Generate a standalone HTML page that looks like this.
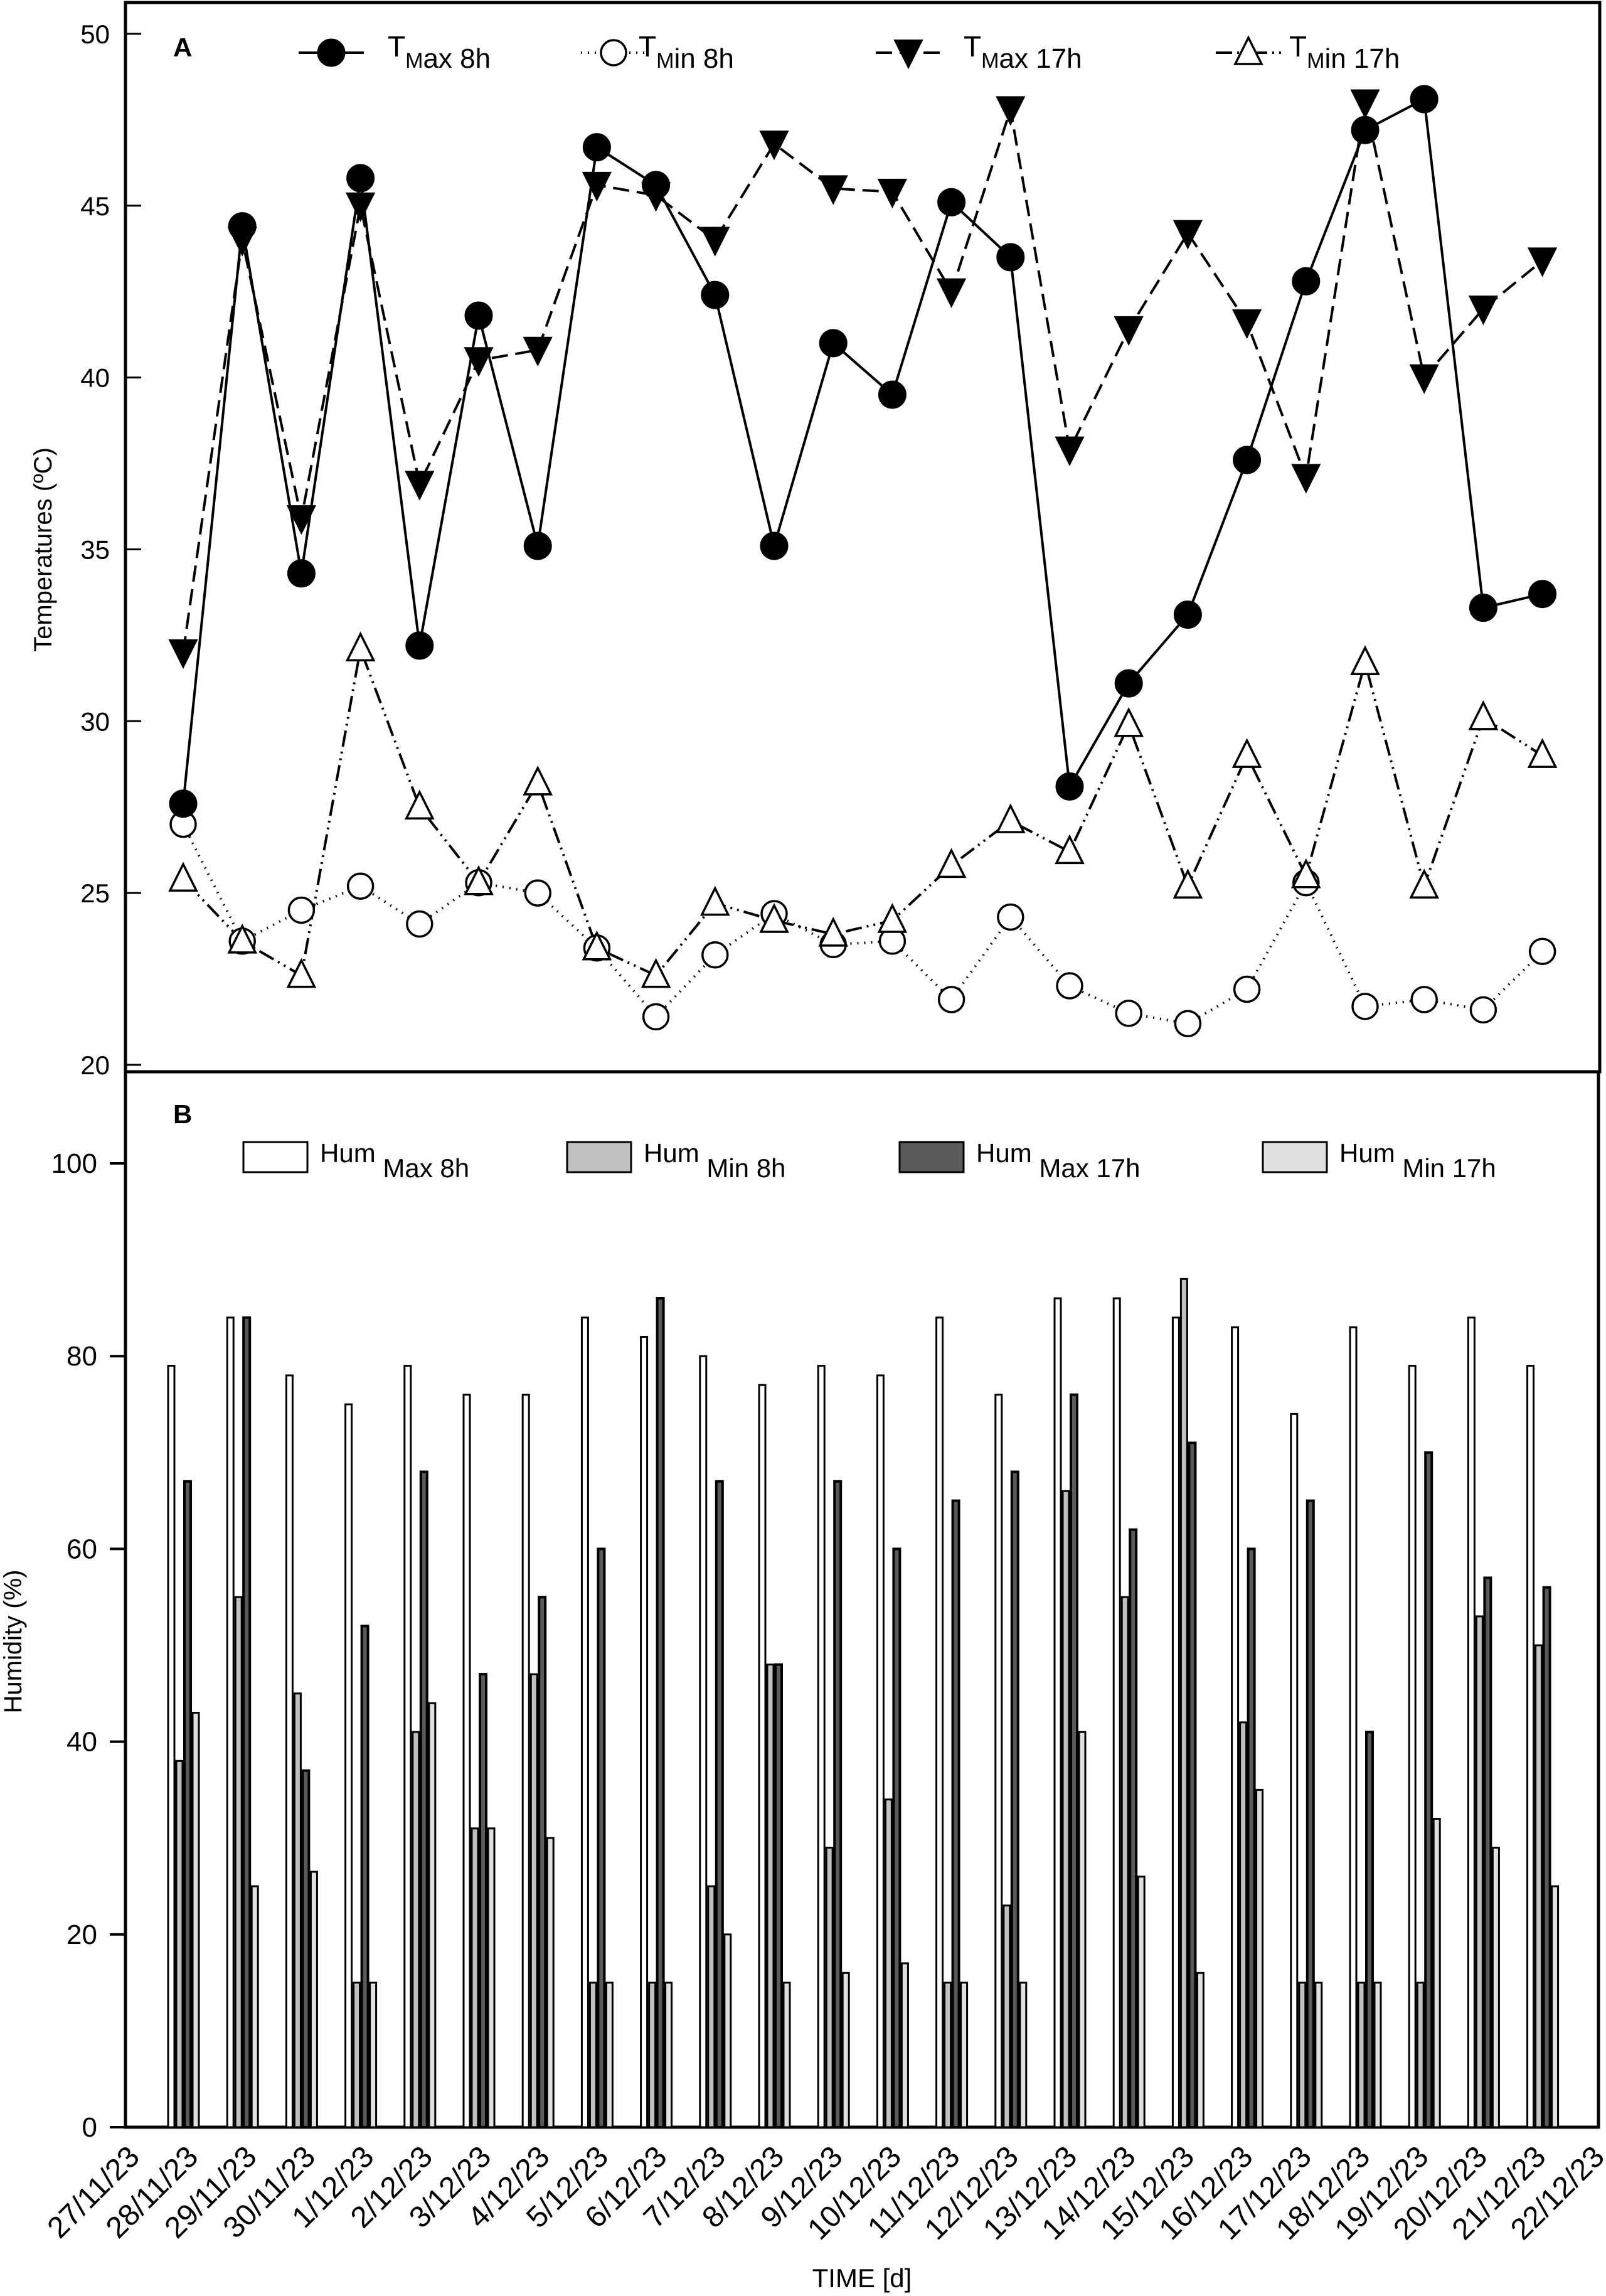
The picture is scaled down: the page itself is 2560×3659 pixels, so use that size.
<!DOCTYPE html>
<html><head><meta charset="utf-8"><style>
html,body{margin:0;padding:0;background:#fff;}
svg{display:block;font-family:"Liberation Sans",Arial,sans-serif;}
</style></head><body>
<svg id="chart" width="2560" height="3659" viewBox="0 0 2560 3659" xmlns="http://www.w3.org/2000/svg">
<g id="panelA"></g>
<g id="panelB"></g>
</svg>
<script>
const dates=["27/11/23","28/11/23","29/11/23","30/11/23","1/12/23","2/12/23","3/12/23","4/12/23","5/12/23","6/12/23","7/12/23","8/12/23","9/12/23","10/12/23","11/12/23","12/12/23","13/12/23","14/12/23","15/12/23","16/12/23","17/12/23","18/12/23","19/12/23","20/12/23","21/12/23","22/12/23"];
const tMax8=[27.6,44.4,34.3,45.8,32.2,41.8,35.1,46.7,45.6,42.4,35.1,41.0,39.5,45.1,43.5,28.1,31.1,33.1,37.6,42.8,47.2,48.1,33.3,33.7];
const tMin8=[27.0,23.6,24.5,25.2,24.1,25.3,25.0,23.4,21.4,23.2,24.4,23.5,23.6,21.9,24.3,22.3,21.5,21.2,22.2,25.3,21.7,21.9,21.6,23.3];
const tMax17=[32.0,44.0,35.9,45.0,36.9,40.5,40.8,45.6,45.3,44.0,46.8,45.5,45.4,42.5,47.8,37.9,41.4,44.2,41.6,37.1,48.0,40.0,42.0,43.4];
const tMin17=[25.4,23.6,22.6,32.1,27.5,25.3,28.2,23.4,22.6,24.7,24.2,23.8,24.2,25.8,27.1,26.2,29.9,25.2,29.0,25.5,31.7,25.2,30.1,29.0];
const humMax8=[79,84,78,75,79,76,76,84,82,80,77,79,78,84,76,86,86,84,83,74,83,79,84,79];
const humMin8=[38,55,45,15,41,31,47,15,15,25,48,29,34,15,23,66,55,88,42,15,15,15,53,50];
const humMax17=[67,84,37,52,68,47,55,60,86,67,48,67,60,65,68,76,62,71,60,65,41,70,57,56];
const humMin17=[43,25,26.5,15,44,31,30,15,15,20,15,16,17,15,15,41,26,16,35,15,15,32,29,25];
const tTicks=[20,25,30,35,40,45,50];
const hTicks=[0,20,40,60,80,100];

const NS="http://www.w3.org/2000/svg";
function mk(parent,tag,attrs,text){const e=document.createElementNS(NS,tag);for(const k in attrs)e.setAttribute(k,attrs[k]);if(text!==undefined)e.textContent=text;parent.appendChild(e);return e;}
const A=document.getElementById('panelA'), B=document.getElementById('panelB');
const xA=i=>292+i*94.2;
const yA=v=>1697-(v-20)*54.77;
const yB=v=>3390-v*15.36;
const xLbl=i=>205+i*93.4;

let f=mk(A,'rect',{x:200,y:4,width:2350,height:1704,fill:'none',stroke:'#000','stroke-width':5});

tTicks.forEach(t=>{
 let l=mk(A,'line',{x1:200,x2:225,y1:yA(t),y2:yA(t),stroke:'#000','stroke-width':3});
 
 let tx=mk(A,'text',{x:175,y:yA(t)+15,'font-size':42,'text-anchor':'end'},t);
 
});
let ta=mk(A,'text',{x:0,y:0,'font-size':40,'text-anchor':'middle',transform:'translate(82,876) rotate(-90)'},'Temperatures (ºC)');

let la=mk(A,'text',{x:276,y:90,'font-size':42,'font-weight':'bold'},'A');


function series(vals,dash,name){
 const pts=vals.map((v,i)=>xA(i)+','+yA(v)).join(' ');
 let p=mk(A,'polyline',{points:pts,fill:'none',stroke:'#000','stroke-width':4,'stroke-dasharray':dash});
 
}
function marker(g,type,x,y){
 if(type==='fc')return mk(g,'circle',{cx:x,cy:y,r:21,fill:'#000',stroke:'#000','stroke-width':3});
 if(type==='oc')return mk(g,'circle',{cx:x,cy:y,r:20,fill:'#fff',stroke:'#000','stroke-width':3.5});
 if(type==='td')return mk(g,'polygon',{points:`${x-22},${y-20} ${x+22},${y-20} ${x},${y+24}`,fill:'#000',stroke:'#000','stroke-width':2});
 if(type==='tu')return mk(g,'polygon',{points:`${x},${y-24} ${x+21},${y+18} ${x-21},${y+18}`,fill:'#fff',stroke:'#000','stroke-width':3.5});
}
series(tMin8,'2 9','tmin-8h');series(tMin17,'26 8 3 8 3 8','tmin-17h');
series(tMax17,'26 12','tmax-17h');series(tMax8,'','tmax-8h');
[[tMin8,'oc','tmin-8h'],[tMin17,'tu','tmin-17h'],[tMax17,'td','tmax-17h'],[tMax8,'fc','tmax-8h']].forEach(([vals,t,n])=>{
 vals.forEach((v,i)=>{let m=marker(A,t,xA(i),yA(v));
  });
});
const legA=[[528,'fc','','Max 8h','tmax-8h',90],[978,'oc','2 9','Min 8h','tmin-8h',40],[1448,'td','26 12','Max 17h','tmax-17h',88],[1990,'tu','26 8 3 8 3 8','Min 17h','tmin-17h',65]];
legA.forEach(([x,t,d,s,n,off])=>{
 let g=mk(A,'g',{});
 mk(g,'line',{x1:x-52,x2:x+52,y1:84,y2:84,stroke:'#000','stroke-width':4,'stroke-dasharray':d});
 marker(g,t,x,84);
 const tx=mk(g,'text',{x:x+off,y:90,'font-size':46},'T');
 mk(tx,'tspan',{'font-size':34,dy:18},s.split(' ')[0].slice(0,1));
 mk(tx,'tspan',{'font-size':44},s.split(' ')[0].slice(1)+' '+s.split(' ')[1]);
});

let fb=mk(B,'rect',{x:200,y:1708,width:2348,height:1682,fill:'none',stroke:'#000','stroke-width':5});

hTicks.forEach(t=>{
 let l=mk(B,'line',{x1:175,x2:200,y1:yB(t),y2:yB(t),stroke:'#000','stroke-width':4});
 
 let tx=mk(B,'text',{x:155,y:yB(t)+15,'font-size':44,'text-anchor':'end'},t);
 
});
let hb=mk(B,'text',{x:0,y:0,'font-size':40,'text-anchor':'middle',transform:'translate(34,2616) rotate(-90)'},'Humidity (%)');

let lb=mk(B,'text',{x:276,y:1790,'font-size':42,'font-weight':'bold'},'B');

const fills=['#ffffff','#c0c0c0','#5a5a5a','#e0e0e0'];
const hs=[humMax8,humMin8,humMax17,humMin17];
const hn=['hum-max-8h','hum-min-8h','hum-max-17h','hum-min-17h'];
for(let i=0;i<24;i++){
 const gx=268+i*94.2;
 hs.forEach((arr,k)=>{
  let r=mk(B,'rect',{x:gx+k*13,y:yB(arr[i]),width:10,height:yB(0)-yB(arr[i]),fill:fills[k],stroke:'#000','stroke-width':k===2?4:3});
  
 });
}
dates.forEach((d,i)=>{
 let tx=mk(B,'text',{x:0,y:0,'font-size':48,'text-anchor':'end',transform:`translate(${xLbl(i)+20},${3440}) rotate(-45)`},d);
 
});
let xt=mk(B,'text',{x:1374,y:3645,'font-size':42,'text-anchor':'middle'},'TIME [d]');

const legB=[[388,'Max 8h'],[904,'Min 8h'],[1434,'Max 17h'],[2013,'Min 17h']];
legB.forEach(([x,s],k)=>{
 let g=mk(B,'g',{});
 mk(g,'rect',{x:x,y:1820,width:102,height:48,fill:fills[k],stroke:'#000','stroke-width':3});
 const tx=mk(g,'text',{x:x+122,y:1852,'font-size':42},'Hum');
 mk(tx,'tspan',{dy:24,'font-size':42},' '+s);
});
</script>
</body></html>
